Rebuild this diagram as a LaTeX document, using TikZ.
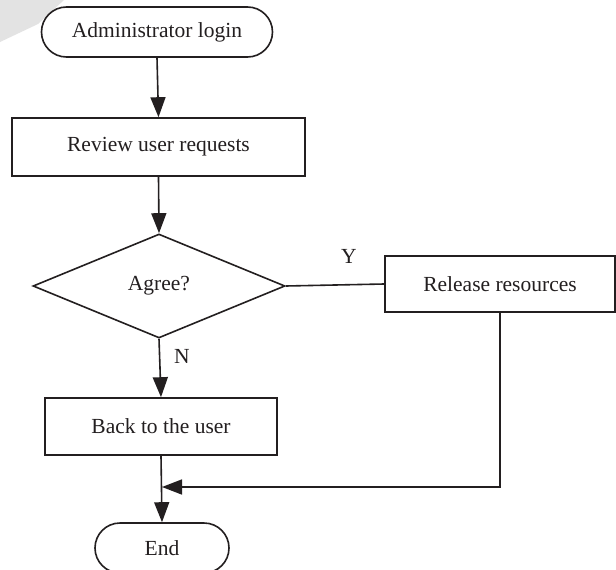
\documentclass[tikz,border=0pt]{standalone}
\usepackage{fontspec}
\setmainfont{Liberation Serif}
\usetikzlibrary{shapes.geometric,arrows.meta}
\definecolor{ink}{HTML}{231F20}
\tikzset{
  every node/.style={font=\fontsize{21.5}{25}\selectfont, text=ink},
  terminal/.style={draw=ink, line width=1.6pt, fill=white, rounded corners=25pt, inner sep=0pt, minimum height=50pt},
  process/.style={draw=ink, line width=1.6pt, fill=white, inner sep=0pt},
  decision/.style={draw=ink, line width=1.6pt, fill=white, diamond, inner sep=0pt, minimum width=252pt, minimum height=104pt},
  flow/.style={draw=ink, line width=1.6pt, -{Triangle[length=20pt,width=15pt]}},
  link/.style={draw=ink, line width=1.6pt}
}
\begin{document}
\begin{tikzpicture}[x=1pt,y=-1pt]
  \clip (0,0) rectangle (616,570);
  \fill[white] (0,0) rectangle (616,570);
  % faint corner mark
  \fill[gray!22] (0,0) -- (64,0) -- (38,24) -- (0,42) -- cycle;

  \node[terminal, minimum width=231pt] (login) at (157,32) {Administrator login};
  \node[process, minimum width=293pt, minimum height=58pt] (review) at (158.5,147) {Review user requests};
  \node[decision] (agree) at (159,286) {Agree?};
  \node[process, minimum width=230pt, minimum height=56pt] (release) at (500,284) {Release resources};
  \node[process, minimum width=232pt, minimum height=57pt] (back) at (161,426.5) {Back to the user};
  \node[terminal, minimum width=134pt] (end) at (162,548) {End};

  \node (ylab) at (349,256) {Y};
  \node (nlab) at (182,356) {N};
  \coordinate (join) at (162,487);

  \draw[flow] (login.south) -- (review.north);
  \draw[flow] (review.south) -- (agree.north);
  \draw[link] (agree.east) -- (release.west);
  \draw[flow] (agree.south) -- (back.north);
  \draw[flow] (back.south) -- (end.north);
  \draw[flow] (release.south) |- (join);
\end{tikzpicture}
\end{document}
